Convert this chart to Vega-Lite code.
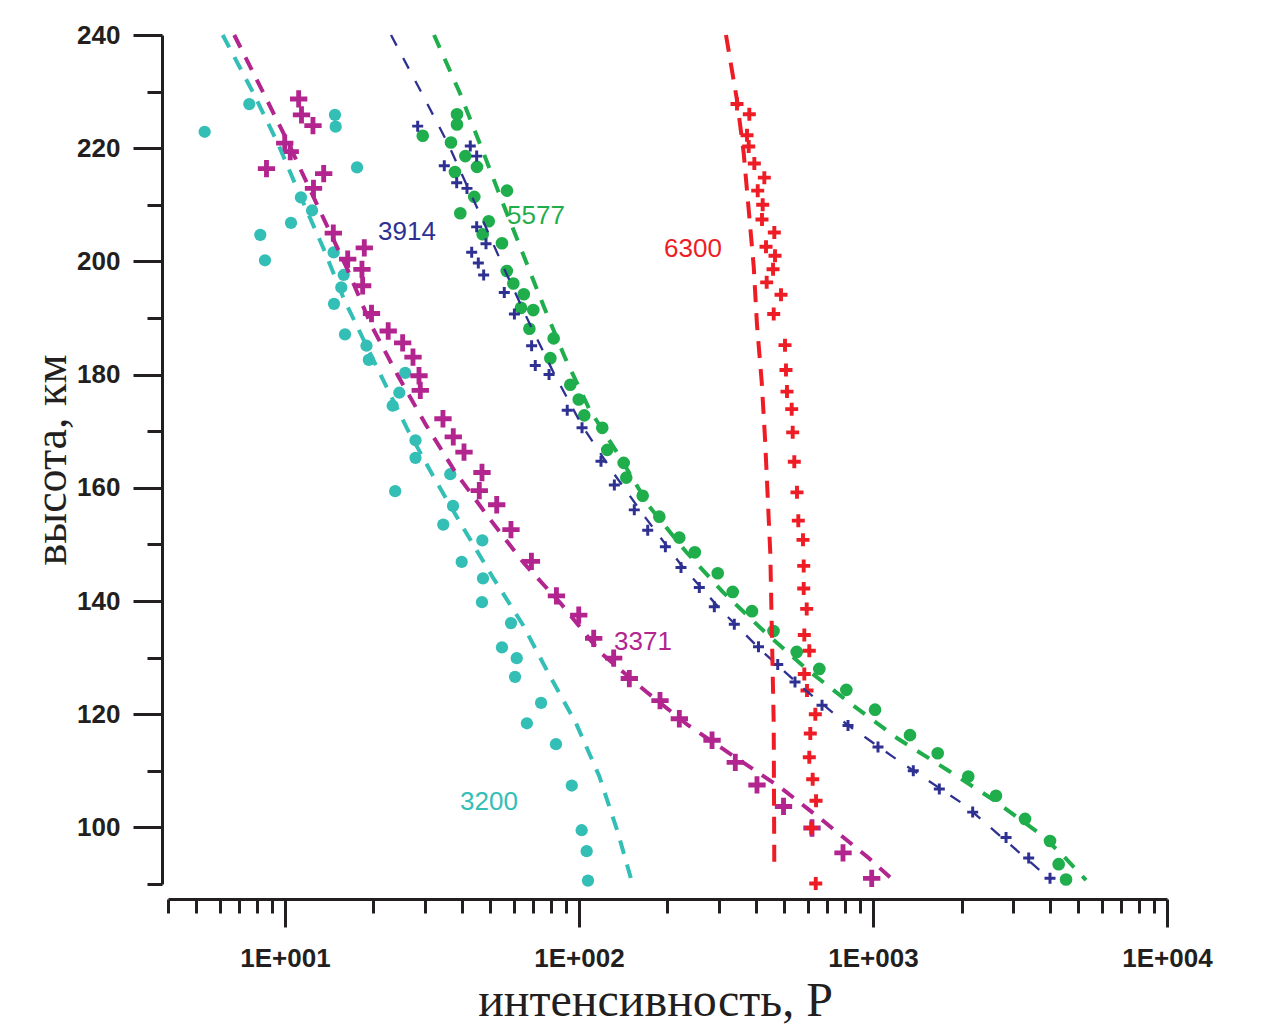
{
  "$schema": "https://vega.github.io/schema/vega-lite/v6.json",
  "width": 999,
  "height": 849,
  "autosize": {"type": "none"},
  "padding": {"left": 168, "top": 35, "right": 105, "bottom": 144},
  "background": "white",
  "config": {"view": {"stroke": null}, "font": "Liberation Sans"},
  "datasets": {
    "pts": [
      {"s":"3200","x":5.33,"h":222.9},{"s":"3200","x":7.56,"h":227.8},{"s":"3200","x":14.79,"h":225.9},{"s":"3200","x":14.87,"h":223.8},{"s":"3200","x":17.58,"h":216.6},{"s":"3200","x":11.33,"h":211.3},{"s":"3200","x":12.36,"h":209.0},{"s":"3200","x":10.48,"h":206.8},{"s":"3200","x":8.24,"h":204.7},{"s":"3200","x":8.55,"h":200.2},{"s":"3200","x":14.64,"h":201.6},{"s":"3200","x":15.84,"h":197.6},{"s":"3200","x":15.54,"h":195.4},{"s":"3200","x":14.68,"h":192.5},{"s":"3200","x":16.0,"h":187.1},{"s":"3200","x":18.93,"h":185.1},{"s":"3200","x":19.28,"h":182.6},{"s":"3200","x":25.64,"h":180.3},{"s":"3200","x":24.48,"h":176.8},{"s":"3200","x":23.24,"h":174.5},{"s":"3200","x":27.79,"h":168.4},{"s":"3200","x":27.79,"h":165.3},{"s":"3200","x":23.7,"h":159.4},{"s":"3200","x":36.49,"h":162.4},{"s":"3200","x":37.28,"h":156.8},{"s":"3200","x":34.54,"h":153.5},{"s":"3200","x":46.9,"h":150.7},{"s":"3200","x":39.9,"h":146.9},{"s":"3200","x":47.15,"h":144.0},{"s":"3200","x":46.78,"h":139.8},{"s":"3200","x":58.71,"h":136.1},{"s":"3200","x":54.7,"h":131.8},{"s":"3200","x":61.4,"h":129.9},{"s":"3200","x":60.6,"h":126.6},{"s":"3200","x":74.3,"h":122.0},{"s":"3200","x":66.5,"h":118.4},{"s":"3200","x":83.5,"h":114.7},{"s":"3200","x":94.5,"h":107.4},{"s":"3200","x":102.1,"h":99.5},{"s":"3200","x":106.2,"h":95.8},{"s":"3200","x":107.3,"h":90.6},
      {"s":"3371","x":11.13,"h":228.7},{"s":"3371","x":11.38,"h":225.9},{"s":"3371","x":12.45,"h":224.0},{"s":"3371","x":9.98,"h":220.9},{"s":"3371","x":10.42,"h":219.4},{"s":"3371","x":8.65,"h":216.4},{"s":"3371","x":13.54,"h":215.5},{"s":"3371","x":12.5,"h":212.9},{"s":"3371","x":14.6,"h":205.0},{"s":"3371","x":18.61,"h":202.4},{"s":"3371","x":16.34,"h":200.4},{"s":"3371","x":18.27,"h":198.6},{"s":"3371","x":18.37,"h":195.7},{"s":"3371","x":19.69,"h":190.8},{"s":"3371","x":22.44,"h":187.7},{"s":"3371","x":25.13,"h":185.6},{"s":"3371","x":27.25,"h":183.1},{"s":"3371","x":28.56,"h":179.8},{"s":"3371","x":28.85,"h":177.2},{"s":"3371","x":34.46,"h":172.2},{"s":"3371","x":37.36,"h":169.0},{"s":"3371","x":40.63,"h":166.3},{"s":"3371","x":46.78,"h":162.7},{"s":"3371","x":45.8,"h":159.5},{"s":"3371","x":52.5,"h":157.0},{"s":"3371","x":58.7,"h":152.6},{"s":"3371","x":68.9,"h":147.0},{"s":"3371","x":83.8,"h":140.9},{"s":"3371","x":99.8,"h":137.5},{"s":"3371","x":112.2,"h":133.4},{"s":"3371","x":131.2,"h":129.9},{"s":"3371","x":148.3,"h":126.3},{"s":"3371","x":188.6,"h":122.4},{"s":"3371","x":219.4,"h":119.2},{"s":"3371","x":283.5,"h":115.4},{"s":"3371","x":340.1,"h":111.5},{"s":"3371","x":403.1,"h":107.5},{"s":"3371","x":496.2,"h":103.7},{"s":"3371","x":620.2,"h":99.9},{"s":"3371","x":790.7,"h":95.5},{"s":"3371","x":989.9,"h":91.0},
      {"s":"3914","x":28.27,"h":223.9},{"s":"3914","x":42.68,"h":220.4},{"s":"3914","x":44.87,"h":218.6},{"s":"3914","x":34.82,"h":216.9},{"s":"3914","x":38.37,"h":213.9},{"s":"3914","x":41.59,"h":212.9},{"s":"3914","x":44.87,"h":206.1},{"s":"3914","x":48.27,"h":203.1},{"s":"3914","x":43.15,"h":201.6},{"s":"3914","x":45.45,"h":199.7},{"s":"3914","x":47.4,"h":197.6},{"s":"3914","x":55.7,"h":194.5},{"s":"3914","x":60.3,"h":190.7},{"s":"3914","x":69.0,"h":185.1},{"s":"3914","x":71.0,"h":181.6},{"s":"3914","x":79.1,"h":180.0},{"s":"3914","x":91.2,"h":173.7},{"s":"3914","x":102.4,"h":170.6},{"s":"3914","x":118.8,"h":164.7},{"s":"3914","x":131.9,"h":160.5},{"s":"3914","x":154.2,"h":156.1},{"s":"3914","x":171.3,"h":152.5},{"s":"3914","x":196.7,"h":149.6},{"s":"3914","x":222.3,"h":145.9},{"s":"3914","x":256.6,"h":142.4},{"s":"3914","x":288.6,"h":139.0},{"s":"3914","x":337.5,"h":135.9},{"s":"3914","x":407.9,"h":131.9},{"s":"3914","x":474.2,"h":128.8},{"s":"3914","x":542.9,"h":125.7},{"s":"3914","x":670.8,"h":121.6},{"s":"3914","x":822.2,"h":118.0},{"s":"3914","x":1040,"h":114.2},{"s":"3914","x":1371,"h":110.0},{"s":"3914","x":1681,"h":106.8},{"s":"3914","x":2183,"h":102.7},{"s":"3914","x":2835,"h":98.2},{"s":"3914","x":3385,"h":94.6},{"s":"3914","x":4000,"h":91.0},
      {"s":"5577","x":38.46,"h":226.0},{"s":"5577","x":38.46,"h":224.2},{"s":"5577","x":29.41,"h":222.2},{"s":"5577","x":36.69,"h":221.0},{"s":"5577","x":41.05,"h":218.6},{"s":"5577","x":44.98,"h":216.7},{"s":"5577","x":37.86,"h":215.8},{"s":"5577","x":56.9,"h":212.5},{"s":"5577","x":44.04,"h":211.4},{"s":"5577","x":39.47,"h":208.5},{"s":"5577","x":49.3,"h":207.1},{"s":"5577","x":47.03,"h":204.8},{"s":"5577","x":54.7,"h":203.2},{"s":"5577","x":56.8,"h":198.3},{"s":"5577","x":59.8,"h":196.1},{"s":"5577","x":64.9,"h":194.2},{"s":"5577","x":63.5,"h":191.8},{"s":"5577","x":69.9,"h":191.4},{"s":"5577","x":67.8,"h":188.1},{"s":"5577","x":82.0,"h":186.4},{"s":"5577","x":79.9,"h":182.9},{"s":"5577","x":93.4,"h":178.2},{"s":"5577","x":99.8,"h":175.6},{"s":"5577","x":104.2,"h":172.8},{"s":"5577","x":120.0,"h":170.6},{"s":"5577","x":124.8,"h":166.7},{"s":"5577","x":141.9,"h":164.4},{"s":"5577","x":144.8,"h":161.8},{"s":"5577","x":164.7,"h":158.6},{"s":"5577","x":187.6,"h":154.9},{"s":"5577","x":219.4,"h":151.2},{"s":"5577","x":247.7,"h":148.6},{"s":"5577","x":296.4,"h":144.9},{"s":"5577","x":333.3,"h":141.6},{"s":"5577","x":387.6,"h":138.2},{"s":"5577","x":458.8,"h":134.7},{"s":"5577","x":550.3,"h":131.0},{"s":"5577","x":656.8,"h":128.0},{"s":"5577","x":811.5,"h":124.3},{"s":"5577","x":1016,"h":120.8},{"s":"5577","x":1336,"h":116.3},{"s":"5577","x":1660,"h":113.1},{"s":"5577","x":2109,"h":109.0},{"s":"5577","x":2620,"h":105.6},{"s":"5577","x":3289,"h":101.5},{"s":"5577","x":4000,"h":97.6},{"s":"5577","x":4281,"h":93.5},{"s":"5577","x":4535,"h":90.8},
      {"s":"6300","x":344.7,"h":227.8},{"s":"6300","x":379.6,"h":226.0},{"s":"6300","x":372.8,"h":222.3},{"s":"6300","x":377.8,"h":220.3},{"s":"6300","x":394.8,"h":217.3},{"s":"6300","x":426.9,"h":214.8},{"s":"6300","x":405.4,"h":212.5},{"s":"6300","x":421.5,"h":210.0},{"s":"6300","x":419.2,"h":207.4},{"s":"6300","x":461.7,"h":205.1},{"s":"6300","x":432.6,"h":202.6},{"s":"6300","x":464.2,"h":201.0},{"s":"6300","x":457.1,"h":198.6},{"s":"6300","x":434.9,"h":196.3},{"s":"6300","x":486.5,"h":194.1},{"s":"6300","x":459.5,"h":190.7},{"s":"6300","x":502.0,"h":185.2},{"s":"6300","x":505.9,"h":180.8},{"s":"6300","x":509.9,"h":177.0},{"s":"6300","x":529.0,"h":173.9},{"s":"6300","x":533.2,"h":169.8},{"s":"6300","x":539.9,"h":164.6},{"s":"6300","x":551.4,"h":159.2},{"s":"6300","x":557.1,"h":154.2},{"s":"6300","x":578.0,"h":150.8},{"s":"6300","x":581.2,"h":146.2},{"s":"6300","x":581.2,"h":142.2},{"s":"6300","x":595.0,"h":138.6},{"s":"6300","x":583.9,"h":134.0},{"s":"6300","x":607.2,"h":131.2},{"s":"6300","x":583.9,"h":127.1},{"s":"6300","x":596.4,"h":124.2},{"s":"6300","x":636.6,"h":120.0},{"s":"6300","x":611.9,"h":116.6},{"s":"6300","x":607.2,"h":112.4},{"s":"6300","x":623.5,"h":108.5},{"s":"6300","x":640.1,"h":104.7},{"s":"6300","x":616.6,"h":99.9},{"s":"6300","x":638.6,"h":90.1}
    ],
    "fits": [
      {"s":"3200","x":6.14,"h":240},{"s":"3200","x":7.76,"h":230.0},{"s":"3200","x":9.45,"h":220.9},{"s":"3200","x":11.18,"h":212.0},{"s":"3200","x":13.44,"h":202.6},{"s":"3200","x":15.91,"h":193.2},{"s":"3200","x":21.21,"h":179.8},{"s":"3200","x":26.0,"h":170.5},{"s":"3200","x":32.2,"h":161.7},{"s":"3200","x":40.2,"h":153.1},{"s":"3200","x":50.9,"h":144.2},{"s":"3200","x":64.4,"h":135.8},{"s":"3200","x":79.3,"h":126.9},{"s":"3200","x":97.7,"h":118.4},{"s":"3200","x":117.3,"h":109.0},{"s":"3200","x":135.4,"h":99.2},{"s":"3200","x":151.4,"h":90.35},
      {"s":"3371","x":6.72,"h":240},{"s":"3371","x":8.4,"h":230.0},{"s":"3371","x":10.34,"h":220.6},{"s":"3371","x":11.33,"h":216.1},{"s":"3371","x":13.61,"h":207.3},{"s":"3371","x":16.34,"h":198.5},{"s":"3371","x":19.61,"h":188.8},{"s":"3371","x":24.17,"h":179.9},{"s":"3371","x":30.17,"h":171.1},{"s":"3371","x":38.16,"h":162.6},{"s":"3371","x":49.55,"h":154.6},{"s":"3371","x":64.9,"h":146.7},{"s":"3371","x":86.9,"h":139.5},{"s":"3371","x":118.8,"h":130.8},{"s":"3371","x":169.0,"h":124.0},{"s":"3371","x":234.3,"h":118.1},{"s":"3371","x":337.5,"h":112.5},{"s":"3371","x":480.1,"h":107.2},{"s":"3371","x":683.1,"h":101.0},{"s":"3371","x":971.4,"h":94.5},{"s":"3371","x":1170,"h":90.7},
      {"s":"3914","x":22.94,"h":240},{"s":"3914","x":29.0,"h":230.0},{"s":"3914","x":35.76,"h":220.9},{"s":"3914","x":47.03,"h":207.3},{"s":"3914","x":56.45,"h":198.0},{"s":"3914","x":67.76,"h":189.1},{"s":"3914","x":82.4,"h":180.1},{"s":"3914","x":102.9,"h":170.8},{"s":"3914","x":130.2,"h":162.8},{"s":"3914","x":169.0,"h":154.6},{"s":"3914","x":222.3,"h":146.4},{"s":"3914","x":304.1,"h":138.4},{"s":"3914","x":416.0,"h":131.3},{"s":"3914","x":569.0,"h":124.9},{"s":"3914","x":820.1,"h":118.1},{"s":"3914","x":1167,"h":112.5},{"s":"3914","x":2044,"h":104.0},{"s":"3914","x":4031,"h":90.7},
      {"s":"5577","x":32.13,"h":240},{"s":"5577","x":39.37,"h":229.7},{"s":"5577","x":46.67,"h":220.0},{"s":"5577","x":54.6,"h":210.8},{"s":"5577","x":64.4,"h":201.4},{"s":"5577","x":76.2,"h":191.8},{"s":"5577","x":89.8,"h":182.9},{"s":"5577","x":108.4,"h":173.9},{"s":"5577","x":137.1,"h":165.6},{"s":"5577","x":173.4,"h":156.7},{"s":"5577","x":231.2,"h":148.7},{"s":"5577","x":308.2,"h":141.6},{"s":"5577","x":426.9,"h":134.6},{"s":"5577","x":599.7,"h":127.8},{"s":"5577","x":853.0,"h":121.6},{"s":"5577","x":1213,"h":115.7},{"s":"5577","x":1796,"h":110.1},{"s":"5577","x":2580,"h":104.8},{"s":"5577","x":3678,"h":98.95},{"s":"5577","x":4360,"h":95.4},{"s":"5577","x":5303,"h":90.7},
      {"s":"6300","x":316.2,"h":240},{"s":"6300","x":344.7,"h":228.5},{"s":"6300","x":363.3,"h":219.1},{"s":"6300","x":377.8,"h":209.1},{"s":"6300","x":392.9,"h":199.1},{"s":"6300","x":403.1,"h":188.8},{"s":"6300","x":418.3,"h":178.7},{"s":"6300","x":429.3,"h":168.7},{"s":"6300","x":438.4,"h":158.4},{"s":"6300","x":447.4,"h":148.4},{"s":"6300","x":453.4,"h":133.4},{"s":"6300","x":459.5,"h":118.4},{"s":"6300","x":461.7,"h":92.3}
    ],
    "labels": [
      {"s":"3914","x":26.0,"h":205.2},{"s":"5577","x":71.4,"h":208.0},{"s":"6300","x":244.2,"h":202.2},{"s":"3371","x":165.1,"h":132.8},{"s":"3200","x":49.4,"h":104.5}
    ]
  },
  "encoding": {
    "x": {
      "field": "x", "type": "quantitative",
      "scale": {"type": "log", "domain": [4, 10000], "nice": false},
      "title": "интенсивность, Р",
      "axis": {
        "values": [4,5,6,7,8,9,10,20,30,40,50,60,70,80,90,100,200,300,400,500,600,700,800,900,1000,2000,3000,4000,5000,6000,7000,8000,9000,10000],
        "offset": 15, "grid": false,
        "domainColor": "#231F20", "domainWidth": 3,
        "tickColor": "#231F20", "tickWidth": 3,
        "tickSize": {"condition": {"test": "datum.value == 10 || datum.value == 100 || datum.value == 1000 || datum.value == 10000", "value": 28}, "value": 14},
        "labelExpr": "datum.value == 10 ? '1E+001' : datum.value == 100 ? '1E+002' : datum.value == 1000 ? '1E+003' : datum.value == 10000 ? '1E+004' : ''",
        "labelFont": "Liberation Sans", "labelFontWeight": "bold", "labelFontSize": 26, "labelColor": "#231F20",
        "labelPadding": 18, "labelFlush": false, "labelOverlap": false, "labelBound": false,
        "titleFont": "Liberation Serif", "titleFontSize": 48, "titleFontWeight": "normal", "titleColor": "#231F20", "titlePadding": 6,
        "titleX": 487, "titleAlign": "center"
      }
    },
    "y": {
      "field": "h", "type": "quantitative",
      "scale": {"domain": [90, 240], "zero": false, "nice": false},
      "title": "высота, км",
      "axis": {
        "values": [90,100,110,120,130,140,150,160,170,180,190,200,210,220,230,240],
        "offset": 6, "grid": false,
        "domainColor": "#231F20", "domainWidth": 3,
        "tickColor": "#231F20", "tickWidth": 3,
        "tickSize": {"condition": {"test": "datum.value % 20 == 0", "value": 29}, "value": 15},
        "labelExpr": "datum.value % 20 == 0 ? datum.label : ''",
        "labelFont": "Liberation Sans", "labelFontWeight": "bold", "labelFontSize": 26, "labelColor": "#231F20",
        "labelPadding": 13, "labelOverlap": false, "labelBound": false, "labelFlush": false,
        "titleFont": "Liberation Serif", "titleFontSize": 46, "titleFontWeight": "normal", "titleColor": "#231F20", "titlePadding": 1
      }
    }
  },
  "layer": [
    {"data": {"name": "pts"}, "transform": [{"filter": "datum.s == '3200'"}],
     "mark": {"type": "point", "shape": "circle", "filled": true, "opacity": 1, "size": 150, "color": "#33BEB6"}},
    {"data": {"name": "pts"}, "transform": [{"filter": "datum.s == '5577'"}],
     "mark": {"type": "point", "shape": "circle", "filled": true, "opacity": 1, "size": 160, "color": "#1FAE4B"}},
    {"data": {"name": "pts"}, "transform": [{"filter": "datum.s == '3371'"}],
     "mark": {"type": "point", "shape": "M-1,-0.28H-0.28V-1H0.28V-0.28H1V0.28H0.28V1H-0.28V0.28H-1Z", "filled": true, "opacity": 1, "size": 300, "color": "#B2258F"}},
    {"data": {"name": "pts"}, "transform": [{"filter": "datum.s == '3914'"}],
     "mark": {"type": "point", "shape": "M-1,-0.27H-0.27V-1H0.27V-0.27H1V0.27H0.27V1H-0.27V0.27H-1Z", "filled": true, "opacity": 1, "size": 121, "color": "#2E3192"}},
    {"data": {"name": "pts"}, "transform": [{"filter": "datum.s == '6300'"}],
     "mark": {"type": "point", "shape": "M-1,-0.3H-0.3V-1H0.3V-0.3H1V0.3H0.3V1H-0.3V0.3H-1Z", "filled": true, "opacity": 1, "size": 169, "color": "#EE1D25"}},
    {"data": {"name": "fits"}, "transform": [{"filter": "datum.s == '3200'"}],
     "mark": {"type": "line", "color": "#33BEB6", "strokeWidth": 4, "strokeDash": [14, 11]},
     "encoding": {"order": {"field": "h", "sort": "descending"}}},
    {"data": {"name": "fits"}, "transform": [{"filter": "datum.s == '3371'"}],
     "mark": {"type": "line", "color": "#B2258F", "strokeWidth": 4, "strokeDash": [14, 11]},
     "encoding": {"order": {"field": "h", "sort": "descending"}}},
    {"data": {"name": "fits"}, "transform": [{"filter": "datum.s == '3914'"}],
     "mark": {"type": "line", "color": "#2E3192", "strokeWidth": 2.3, "strokeDash": [12, 14]},
     "encoding": {"order": {"field": "h", "sort": "descending"}}},
    {"data": {"name": "fits"}, "transform": [{"filter": "datum.s == '5577'"}],
     "mark": {"type": "line", "color": "#1FAE4B", "strokeWidth": 4, "strokeDash": [14, 12]},
     "encoding": {"order": {"field": "h", "sort": "descending"}}},
    {"data": {"name": "fits"}, "transform": [{"filter": "datum.s == '6300'"}],
     "mark": {"type": "line", "color": "#EE1D25", "strokeWidth": 4, "strokeDash": [17, 11]},
     "encoding": {"order": {"field": "h", "sort": "descending"}}},
    {"data": {"name": "labels"},
     "mark": {"type": "text", "font": "Liberation Sans", "fontSize": 26, "align": "center", "baseline": "middle"},
     "encoding": {
       "text": {"field": "s"},
       "color": {"field": "s", "type": "nominal", "legend": null,
         "scale": {"domain": ["3200", "3371", "3914", "5577", "6300"], "range": ["#33BEB6", "#B2258F", "#2E3192", "#1FAE4B", "#EE1D25"]}}
     }}
  ]
}
